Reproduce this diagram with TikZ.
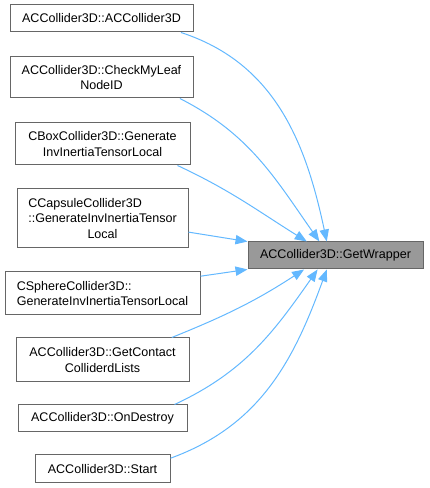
\documentclass[tikz,border=0pt]{standalone}
\usepackage{fontspec}
\setmainfont{Liberation Sans}
\usetikzlibrary{arrows.meta}
\definecolor{edgeblue}{HTML}{63B8FF}
\definecolor{boxgray}{HTML}{666666}
\definecolor{targetgray}{HTML}{999999}

\begin{document}
\begin{tikzpicture}[x=0.75pt,y=0.75pt,
  font=\fontsize{9.4}{11.3}\selectfont,
  fn/.style={draw=boxgray,line width=0.75pt,fill=white,inner sep=0pt,align=center},
  sz/.style 2 args={minimum width=#1*0.75pt,minimum height=#2*0.75pt},
  call/.style={edgeblue,line width=0.75pt,-{Triangle[length=9pt,width=7pt]}}]
\useasboundingbox (0,0) rectangle (429,488);
\node[fn,sz={183}{27}] (ctor) at (101.5,469.5) {ACCollider3D::ACCollider3D};
\node[fn,sz={183}{41}] (leaf) at (101.5,410.5) {ACCollider3D::CheckMyLeaf\\NodeID};
\node[fn,sz={175}{42}] (box) at (102.5,344) {CBoxCollider3D::Generate\\InvInertiaTensorLocal};
\node[fn,sz={171}{59}] (capsule) at (102.5,269.5)
  {\rlap{CCapsuleCollider3D}\phantom{::GenerateInvInertiaTensor}\\::GenerateInvInertiaTensor\\Local};
\node[fn,sz={195}{43},align=left] (sphere) at (102.5,194.5) {CSphereCollider3D::\\GenerateInvInertiaTensorLocal};
\node[fn,sz={173}{44}] (contact) at (102.5,128) {ACCollider3D::GetContact\\ColliderdLists};
\node[fn,sz={169}{27}] (destroy) at (102.5,69.5) {ACCollider3D::OnDestroy};
\node[fn,sz={135}{28}] (start) at (102.5,19) {ACCollider3D::Start};
\node[fn,sz={175}{27},fill=targetgray] (wrap) at (335.5,232.5) {ACCollider3D::GetWrapper};
% callers -> GetWrapper
\draw[call] (ctor.-10) to[out=-18,in=102] (wrap.122);
\draw[call] (leaf.-15) to[out=-27,in=125] (wrap.139);
\draw[call] (box.-16) to[out=-25,in=148] (wrap.154);
\draw[call] (capsule.-9) -- (wrap.171);
\draw[call] (sphere.10) -- (wrap.189);
\draw[call] (contact.18) to[out=22,in=-147] (wrap.204);
\draw[call] (destroy.11) to[out=25,in=-125] (wrap.218);
\draw[call] (start.9) to[out=20,in=-110] (wrap.238);
\end{tikzpicture}
\end{document}
